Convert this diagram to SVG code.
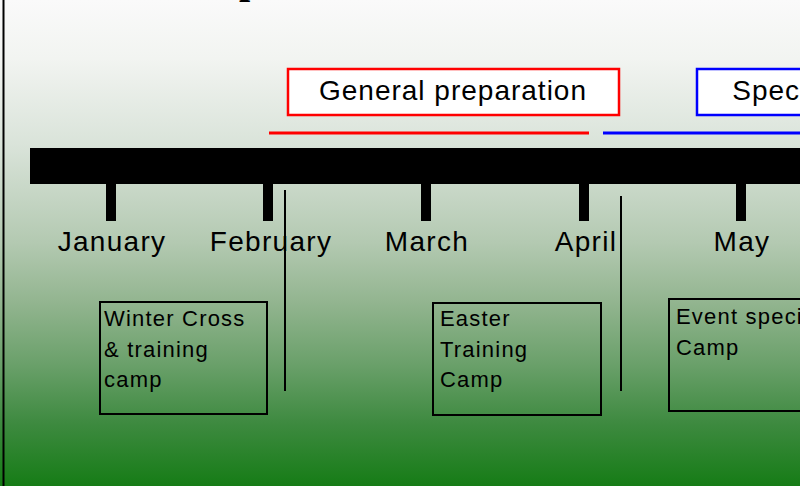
<svg xmlns="http://www.w3.org/2000/svg" width="800" height="486" viewBox="0 0 800 486">
<defs>
<linearGradient id="bg" x1="0" y1="0" x2="0" y2="1">
<stop offset="0" stop-color="#fafafa"/>
<stop offset="0.12" stop-color="#f2f4f1"/>
<stop offset="0.3" stop-color="#d9e3d9"/>
<stop offset="0.5" stop-color="#b3c9b1"/>
<stop offset="0.62" stop-color="#93b590"/>
<stop offset="0.75" stop-color="#6aa06a"/>
<stop offset="0.87" stop-color="#3e8a40"/>
<stop offset="1" stop-color="#167c16"/>
</linearGradient>
<style>
.month{font-family:"Liberation Sans",Arial,sans-serif;font-size:28px;fill:#000;text-anchor:middle;letter-spacing:1.3px}
.phase{font-family:"Liberation Sans",Arial,sans-serif;font-size:28px;fill:#000;text-anchor:middle;letter-spacing:1px}
.camp{font-family:"Liberation Sans",Arial,sans-serif;font-size:22px;fill:#000;letter-spacing:1.2px}
.tick{fill:#000}
.box{fill:none;stroke:#000;stroke-width:2}
.sep{stroke:#000;stroke-width:2}
</style>
</defs>
<rect x="0" y="0" width="800" height="486" fill="url(#bg)"/>
<line x1="3.5" y1="0" x2="3.5" y2="486" stroke="#000" stroke-width="2"/>
<text x="239" y="-7" font-family="'Liberation Serif','Times New Roman',serif" font-weight="bold" font-size="40" fill="#000">p</text>

<g id="general-preparation">
<rect x="288" y="69" width="331" height="46" fill="#fff" stroke="#f00" stroke-width="2.5"/>
<text class="phase" x="453" y="100">General preparation</text>
<line x1="269" y1="133" x2="589" y2="133" stroke="#f00" stroke-width="3"/>
</g>
<g id="specific-preparation">
<rect x="697" y="69" width="331" height="46" fill="#fff" stroke="#00f" stroke-width="2.5"/>
<text class="phase" x="866" y="100">Specific preparation</text>
<line x1="603" y1="133" x2="900" y2="133" stroke="#00f" stroke-width="3"/>
</g>

<g id="timeline">
<rect x="30" y="148" width="780" height="36" fill="#000"/>
</g>

<g id="january"><rect class="tick" x="106" y="184" width="10" height="37"/><text class="month" x="112" y="251">January</text></g>
<g id="february"><rect class="tick" x="263" y="184" width="10" height="37"/><text class="month" x="271" y="251">February</text></g>
<g id="march"><rect class="tick" x="421" y="184" width="10" height="37"/><text class="month" x="427" y="251">March</text></g>
<g id="april"><rect class="tick" x="579" y="184" width="10" height="37"/><text class="month" x="586" y="251">April</text></g>
<g id="may"><rect class="tick" x="736" y="184" width="10" height="37"/><text class="month" x="742" y="251">May</text></g>

<g id="connectors">
<line class="sep" x1="285" y1="190" x2="285" y2="391"/>
<line class="sep" x1="621" y1="196" x2="621" y2="391"/>
</g>

<g id="winter-camp">
<rect class="box" x="100" y="302" width="167" height="112"/>
<text class="camp" x="104" y="326">Winter Cross</text>
<text class="camp" x="104" y="357">&amp; training</text>
<text class="camp" x="104" y="387">camp</text>
</g>
<g id="easter-camp">
<rect class="box" x="433" y="303" width="168" height="112"/>
<text class="camp" x="440" y="326">Easter</text>
<text class="camp" x="440" y="357">Training</text>
<text class="camp" x="440" y="387">Camp</text>
</g>
<g id="event-camp">
<rect class="box" x="669" y="299" width="167" height="112"/>
<text class="camp" x="676" y="324">Event specific</text>
<text class="camp" x="676" y="355">Camp</text>
</g>
</svg>
